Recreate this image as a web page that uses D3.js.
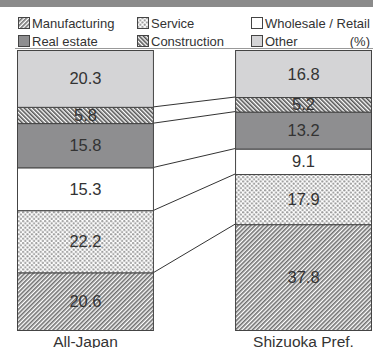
<!DOCTYPE html>
<html>
<head>
<meta charset="utf-8">
<script src="https://cdn.jsdelivr.net/npm/d3@7"></script>
<style>
  body { margin: 0; background: #fff; }
  svg { display: block; font-family: "Liberation Sans", Arial, sans-serif; }
</style>
</head>
<body>
<svg id="chart" width="373" height="348"></svg>
<script>
// data (bottom to top)
const categories = ["Manufacturing", "Service", "Wholesale / Retail", "Real estate", "Construction", "Other"]
const regions = ["All-Japan", "Shizuoka Pref."]
const allJapan = [20.6, 22.2, 15.3, 15.8, 5.8, 20.3]
const shizuoka = [37.8, 17.9, 9.1, 13.2, 5.2, 16.8]
const legendOrder = ["Manufacturing", "Service", "Wholesale / Retail", "Real estate", "Construction", "Other"]

const fills = {
  "Manufacturing": "url(#hatchUp)",
  "Service": "url(#dots)",
  "Wholesale / Retail": "#ffffff",
  "Real estate": "#8e8e90",
  "Construction": "url(#hatchDown)",
  "Other": "#d4d4d6"
}

const svg = d3.select("#chart")

// patterns
const defs = svg.append("defs")
let p = defs.append("pattern").attr("id", "hatchUp")
  .attr("patternUnits", "userSpaceOnUse").attr("width", 3).attr("height", 3)
  .attr("patternTransform", "rotate(45)")
p.append("rect").attr("width", 3).attr("height", 3).attr("fill", "#fff")
p.append("rect").attr("width", 1.6).attr("height", 3).attr("fill", "#707070")

p = defs.append("pattern").attr("id", "hatchDown")
  .attr("patternUnits", "userSpaceOnUse").attr("width", 3).attr("height", 3)
  .attr("patternTransform", "rotate(-45)")
p.append("rect").attr("width", 3).attr("height", 3).attr("fill", "#fff")
p.append("rect").attr("width", 1.6).attr("height", 3).attr("fill", "#555")

p = defs.append("pattern").attr("id", "dots")
  .attr("patternUnits", "userSpaceOnUse").attr("width", 4.4).attr("height", 4.4)
p.append("rect").attr("width", 4.4).attr("height", 4.4).attr("fill", "#fff")
p.append("circle").attr("cx", 1.1).attr("cy", 1.1).attr("r", 1.1).attr("fill", "#9a9a9a")
p.append("circle").attr("cx", 3.3).attr("cy", 3.3).attr("r", 1.1).attr("fill", "#9a9a9a")

// header band
svg.append("rect").attr("x", 0).attr("y", 0).attr("width", 373).attr("height", 7).attr("fill", "#8b8b8b")

// legend
const legX = [18, 137, 251]
const legY = [17, 35]
legendOrder.forEach((c, i) => {
  const col = i % 3, row = Math.floor(i / 3)
  const g = svg.append("g").attr("transform", `translate(${legX[col]},${legY[row]})`)
  g.append("rect").attr("x", 0.5).attr("y", 0.5).attr("width", 11).attr("height", 11)
    .attr("fill", fills[c]).attr("stroke", "#444").attr("stroke-width", 1)
  g.append("text").attr("x", 14).attr("y", 10.5).attr("font-size", 13)
    .attr("fill", "#333").text(c)
})
svg.append("text").attr("x", 370).attr("y", 45.5).attr("text-anchor", "end")
  .attr("font-size", 13).attr("fill", "#333").text("(%)")
svg.append("line").attr("x1", 15).attr("x2", 373).attr("y1", 48.5).attr("y2", 48.5)
  .attr("stroke", "#999").attr("stroke-width", 1)

// scales
const x = d3.scaleBand().domain(regions).range([17, 372]).paddingInner(0.372)
const y = d3.scaleLinear().domain([0, 100]).range([330, 50])

const rows = regions.map(r => {
  const o = { region: r }
  categories.forEach((c, i) => { o[c] = (r === "All-Japan" ? allJapan : shizuoka)[i] })
  return o
})
const series = d3.stack().keys(categories)(rows)

// connector lines between matching boundaries
const left = regions[0], right = regions[1]
series.forEach(s => {
  const v0 = s[0][0], v1 = s[1][0]
  if (v0 <= 0.001) return
  svg.append("line")
    .attr("x1", x(left) + x.bandwidth()).attr("y1", y(v0))
    .attr("x2", x(right)).attr("y2", y(v1))
    .attr("stroke", "#333").attr("stroke-width", 1)
})

// bars
const bars = svg.append("g")
series.forEach(s => {
  bars.selectAll(null).data(s).join("rect")
    .attr("x", d => x(d.data.region) + 0.5)
    .attr("y", d => y(d[1]) + 0.5)
    .attr("width", x.bandwidth() - 1)
    .attr("height", d => y(d[0]) - y(d[1]))
    .attr("fill", fills[s.key])
    .attr("stroke", "#444").attr("stroke-width", 1)
  bars.selectAll(null).data(s).join("text")
    .attr("x", d => x(d.data.region) + x.bandwidth() / 2)
    .attr("y", d => (y(d[0]) + y(d[1])) / 2 + 6)
    .attr("text-anchor", "middle").attr("font-size", 16.5).attr("fill", "#333")
    .text(d => d.data[s.key].toFixed(1))
})

// region labels
svg.selectAll(".region").data(regions).join("text")
  .attr("x", d => x(d) + x.bandwidth() / 2)
  .attr("y", 346.5)
  .attr("text-anchor", "middle").attr("font-size", 15.5).attr("fill", "#333")
  .text(d => d)
</script>
</body>
</html>
